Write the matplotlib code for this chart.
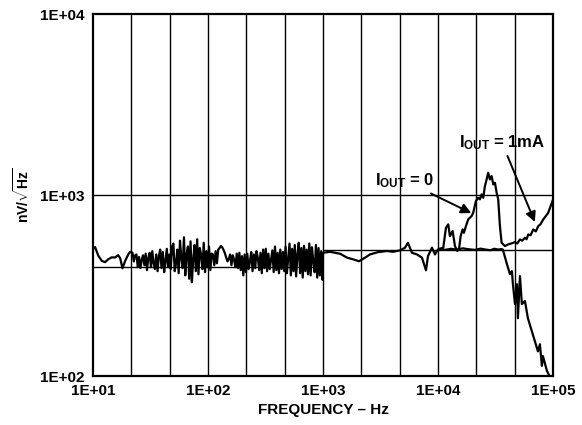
import numpy as np
import matplotlib
matplotlib.use("Agg")
import matplotlib.pyplot as plt

plt.rcParams['font.family'] = ['Liberation Sans', 'DejaVu Sans']
plt.rcParams['font.weight'] = 'bold'
plt.rcParams['mathtext.fontset'] = 'custom'
plt.rcParams['mathtext.rm'] = 'Liberation Sans:bold'
plt.rcParams['mathtext.bf'] = 'Liberation Sans:bold'
plt.rcParams['mathtext.it'] = 'Liberation Sans:bold'

# 10 Hz - 21 Hz, smooth start
f_lo = [10, 10.4, 11.1, 11.9, 12.7, 13.6, 14.5, 15.5, 16.5, 17.2, 18.0, 19.0, 20.3, 21.0]
v_lo = [503, 516, 462, 433, 426, 443, 453, 452, 466, 448, 394, 433, 472, 486]

# 22 Hz - 1 kHz, noisy sweep (log spaced analyser bins)
v_noise = [480, 430, 465, 470, 400, 455, 395, 440, 465, 410, 475, 385, 450, 480, 400,
           490, 420, 390, 470, 380, 460, 500, 395, 485, 375, 430, 505, 400, 470, 390, 520,
           540, 380, 420, 500, 370, 560, 450, 395, 585, 360, 470, 520, 345, 555, 330, 440,
           530, 380, 570, 365, 510, 470, 390, 545, 375, 490, 400, 520, 385, 475,
           470, 410, 490, 420, 500,
           510, 523, 515, 498,
           478, 452, 430, 445,
           470, 410, 465, 440, 400, 475, 395, 480, 385, 460, 360, 470, 375,
           475, 390, 430, 485, 380, 470, 395, 490, 450, 385, 480, 370, 500, 395, 505, 380,
           475, 390, 440, 495, 375, 520, 385, 480, 370, 500, 390, 485, 380,
           520, 370, 450, 540, 360, 505, 380, 530, 355, 470, 545, 370, 510, 350, 525, 380,
           500, 365, 540, 360, 515, 430, 375, 530, 350, 510, 360, 490, 340]
f_noise = np.geomspace(22, 990, len(v_noise))

# 1 kHz - 10 kHz, shared by both curves
f_mid = [1000, 1150, 1410, 1620, 1820, 2060, 2320, 2560, 3010, 3600, 4060, 4680, 5170,
         5480, 5940, 6570, 7260, 7870, 8190, 8870, 9420, 10000, 10400]
v_mid = [480, 486, 474, 451, 442, 431, 451, 470, 484, 491, 486, 495, 512,
         545, 480, 470, 451, 384, 460, 512, 470, 501, 505]

# flat then roll-off branch
f_a = [11500, 13000, 14500, 16500, 18500, 21000, 23500, 26000, 28500, 31000, 33500, 35500,
       36700, 39800, 42300, 44000, 44900, 46800, 48700, 49600, 51700, 53700, 57100, 60600,
       65600, 69700, 74100, 77100, 80200, 81900, 88700, 94300, 100000]
v_a = [498, 505, 500, 508, 502, 498, 506, 500, 496, 505, 500, 503,
       500, 416, 366, 380, 322, 250, 322, 209, 357, 250, 260, 209,
       177, 156, 137, 150, 114, 129, 107, 99, 95]

# peaking branch
f_b = [10400, 11120, 11740, 12290, 12710, 13420, 14050, 14720, 15310, 15750, 16390, 16830,
       17510, 18340, 19620, 20260, 21380, 22390, 23160, 23970, 24760, 25620, 26510, 27370,
       28320, 29300, 30270, 31320, 32400, 33440, 34600, 35800, 38260, 40850, 43730, 46730,
       49000, 51680, 54000, 57120, 59000, 61060, 64000, 67470, 71000, 74540, 78000, 82380,
       86000, 91030, 95000, 100000]
v_b = [505, 512, 660, 689, 593, 633, 523, 491, 512, 593, 646, 619,
       674, 734, 766, 798, 927, 966, 947, 1009, 966, 1121, 1221, 1328,
       1221, 1273, 1146, 1169, 1030, 947, 674, 545, 523, 534, 541, 550,
       540, 569, 560, 581, 570, 606, 600, 646, 630, 674, 690, 734,
       760, 798, 860, 940]

ref_low, ref_high = 400, 497

f_main = np.concatenate([f_lo, f_noise, f_mid, f_a])
v_main = np.concatenate([v_lo, v_noise, v_mid, v_a])

fig = plt.figure(figsize=(5.82, 4.25), dpi=100)
ax = fig.add_axes([0.160, 0.115, 0.790, 0.852])

ax.set_xscale('log')
ax.set_yscale('log')
ax.set_xlim(10, 1e5)
ax.set_ylim(100, 1e4)

# grid: three lines per decade in x, one line at 1E+03 in y
for k in range(1, 12):
    ax.axvline(10 ** (1 + k / 3), color='black', lw=1.0, zorder=1)
ax.axhline(1000, color='black', lw=1.0, zorder=1)
ax.hlines(ref_low, 10, 1000, color='black', lw=1.0, zorder=1)
ax.hlines(ref_high, 1000, 1e5, color='black', lw=1.0, zorder=1)

ax.plot(f_main, v_main, color='black', lw=1.6, zorder=3)
ax.plot(f_b, v_b, color='black', lw=1.6, zorder=3)

ax.set_xticks([1e1, 1e2, 1e3, 1e4, 1e5])
ax.set_xticklabels(['1E+01', '1E+02', '1E+03', '1E+04', '1E+05'])
ax.set_yticks([1e2, 1e3, 1e4])
ax.set_yticklabels(['1E+02', '1E+03', '1E+04'])
ax.minorticks_off()
ax.tick_params(length=0, labelsize=11, pad=6)
for lab in ax.get_xticklabels() + ax.get_yticklabels():
    lab.set_fontweight('bold')
for s in ax.spines.values():
    s.set_linewidth(1.6)

ax.set_xlabel('FREQUENCY – Hz', fontsize=11, fontweight='bold', labelpad=3)
ax.set_ylabel(r'nV/$\sqrt{\mathrm{Hz}}$', fontsize=10, fontweight='bold', labelpad=6)

arrow = dict(arrowstyle='-|>', color='black', lw=1.4, mutation_scale=15,
             shrinkA=1, shrinkB=0)
ax.annotate(r'$\mathrm{I_{OUT}}$ = 0', xy=(19500, 795), xytext=(9300, 1200),
            ha='right', va='center', fontsize=12, fontweight='bold',
            arrowprops=arrow)
ax.annotate(r'$\mathrm{I_{OUT}}$ = 1mA', xy=(69700, 710), xytext=(36000, 1950),
            ha='center', va='center', fontsize=12, fontweight='bold',
            arrowprops=arrow)

fig.savefig('out.png', dpi=100)
